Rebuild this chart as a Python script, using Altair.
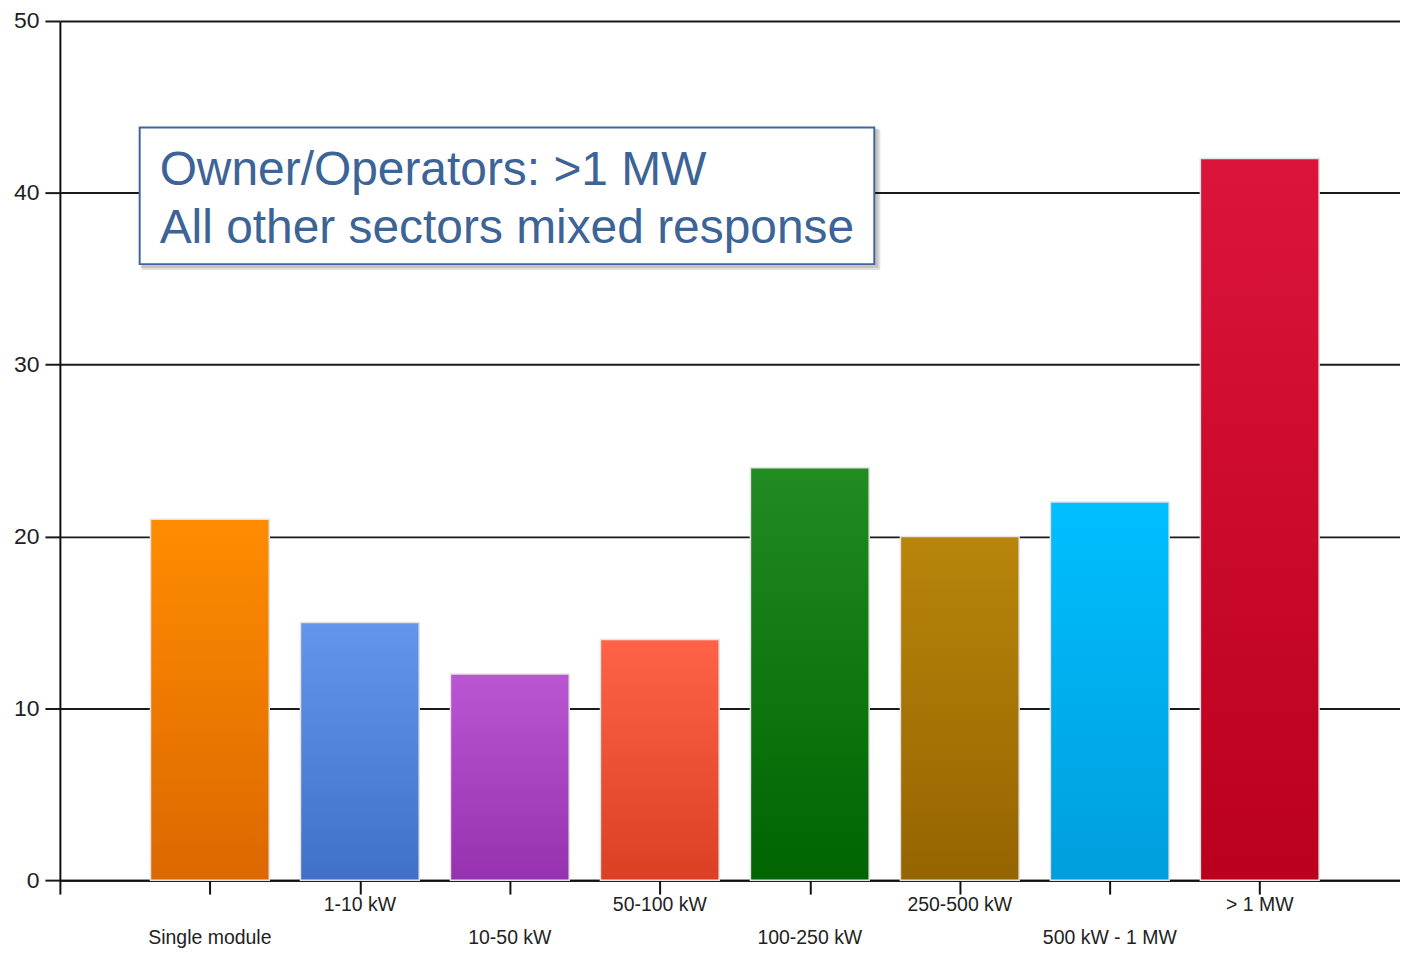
import altair as alt
import pandas as pd

# ---- data ----
categories = ["Single module", "1-10 kW", "10-50 kW", "50-100 kW",
              "100-250 kW", "250-500 kW", "500 kW - 1 MW", "> 1 MW"]
values = [21, 15, 12, 14, 24, 20, 22, 42]
positions = [1, 2, 3, 4, 5, 6, 7, 8]
y_ticks = [0, 10, 20, 30, 40, 50]
x_ticks = [0, 1, 2, 3, 4, 5, 6, 7, 8]

# bar gradient colours (top, bottom)
top_colors = ["#FF8C00", "#6495ED", "#BA55D3", "#FF6347",
              "#228B22", "#B8860B", "#00BFFF", "#DC143C"]
bottom_colors = ["#DC6800", "#4170C8", "#9632B0", "#DC4024",
                 "#006400", "#966400", "#009EDC", "#BA001C"]

# annotation
note_lines = ["Owner/Operators: >1 MW", "All other sectors mixed response"]
note_x = [0.665, 0.665]
note_y = [40.45, 37.1]
box_x = [0.532]
box_x2 = [5.43]
box_y = [43.8]
box_y2 = [35.85]

W, H = 1343, 861

df = pd.DataFrame({"category": categories, "value": values, "pos": positions})
df["row"] = ["lower" if p % 2 else "upper" for p in positions]
notes = pd.DataFrame({"text": note_lines, "x": note_x, "y": note_y})
box = pd.DataFrame({"x": box_x, "x2": box_x2, "y": box_y, "y2": box_y2})

xscale = alt.Scale(domain=[0, 8.935], nice=False, zero=False, padding=0)
yscale = alt.Scale(domain=[0, 50], nice=False, padding=0)

x_axis = alt.Axis(values=x_ticks, labels=False, title=None, grid=False,
                  tickSize=14, tickWidth=2, tickColor="#111",
                  domainColor="#111", domainWidth=2)
y_axis = alt.Axis(values=y_ticks, title=None, grid=True, gridColor="#1a1a1a",
                  gridWidth=2, tickSize=15, tickWidth=2, tickColor="#1a1a1a",
                  domainColor="#111", domainWidth=2, labelPadding=6,
                  labelFont="Liberation Sans", labelFontSize=23,
                  labelColor="#1e1e1e")

layers = []
for i, cat in enumerate(categories):
    grad = alt.LinearGradient(
        gradient="linear", x1=0, y1=0, x2=0, y2=1,
        stops=[alt.GradientStop(color=top_colors[i], offset=0),
               alt.GradientStop(color=bottom_colors[i], offset=1)])
    layer = (alt.Chart(df)
             .transform_filter(alt.datum.category == cat)
             .mark_bar(size=119, color=grad, stroke="#e4e4e4", strokeWidth=1.5)
             .encode(x=alt.X("pos:Q", scale=xscale, axis=x_axis),
                     y=alt.Y("value:Q", scale=yscale, axis=y_axis)))
    layers.append(layer)

label_upper = (alt.Chart(df).transform_filter(alt.datum.row == "upper")
               .mark_text(font="Liberation Sans", fontSize=19.5, color="#222",
                          baseline="middle", align="center")
               .encode(x=alt.X("pos:Q", scale=xscale), y=alt.value(H + 25),
                       text="category:N"))
label_lower = (alt.Chart(df).transform_filter(alt.datum.row == "lower")
               .mark_text(font="Liberation Sans", fontSize=19.5, color="#222",
                          baseline="middle", align="center")
               .encode(x=alt.X("pos:Q", scale=xscale), y=alt.value(H + 58),
                       text="category:N"))

shadow1 = (alt.Chart(box).mark_rect(fill="#000", opacity=0.12, xOffset=2, x2Offset=6,
                                    yOffset=2, y2Offset=6)
           .encode(x=alt.X("x:Q", scale=xscale), x2="x2:Q",
                   y=alt.Y("y:Q", scale=yscale), y2="y2:Q"))
shadow2 = (alt.Chart(box).mark_rect(fill="#000", opacity=0.12, xOffset=1, x2Offset=4,
                                    yOffset=1, y2Offset=4)
           .encode(x=alt.X("x:Q", scale=xscale), x2="x2:Q",
                   y=alt.Y("y:Q", scale=yscale), y2="y2:Q"))
box_layer = (alt.Chart(box).mark_rect(fill="white", stroke="#41679A", strokeWidth=2)
             .encode(x=alt.X("x:Q", scale=xscale), x2="x2:Q",
                     y=alt.Y("y:Q", scale=yscale), y2="y2:Q"))
note_layer = (alt.Chart(notes)
              .mark_text(font="Liberation Sans", fontSize=48, color="#3C6496",
                         align="left", baseline="alphabetic")
              .encode(x=alt.X("x:Q", scale=xscale), y=alt.Y("y:Q", scale=yscale),
                      text="text:N"))

chart = (alt.layer(*layers, label_upper, label_lower, shadow1, shadow2,
                   box_layer, note_layer)
         .properties(width=W, height=H,
                     padding={"left": 5, "top": 1, "right": 0, "bottom": 0},
                     background="white")
         .configure_view(stroke=None))

chart.save("out.html", embed_options={"renderer": "svg", "actions": False})
